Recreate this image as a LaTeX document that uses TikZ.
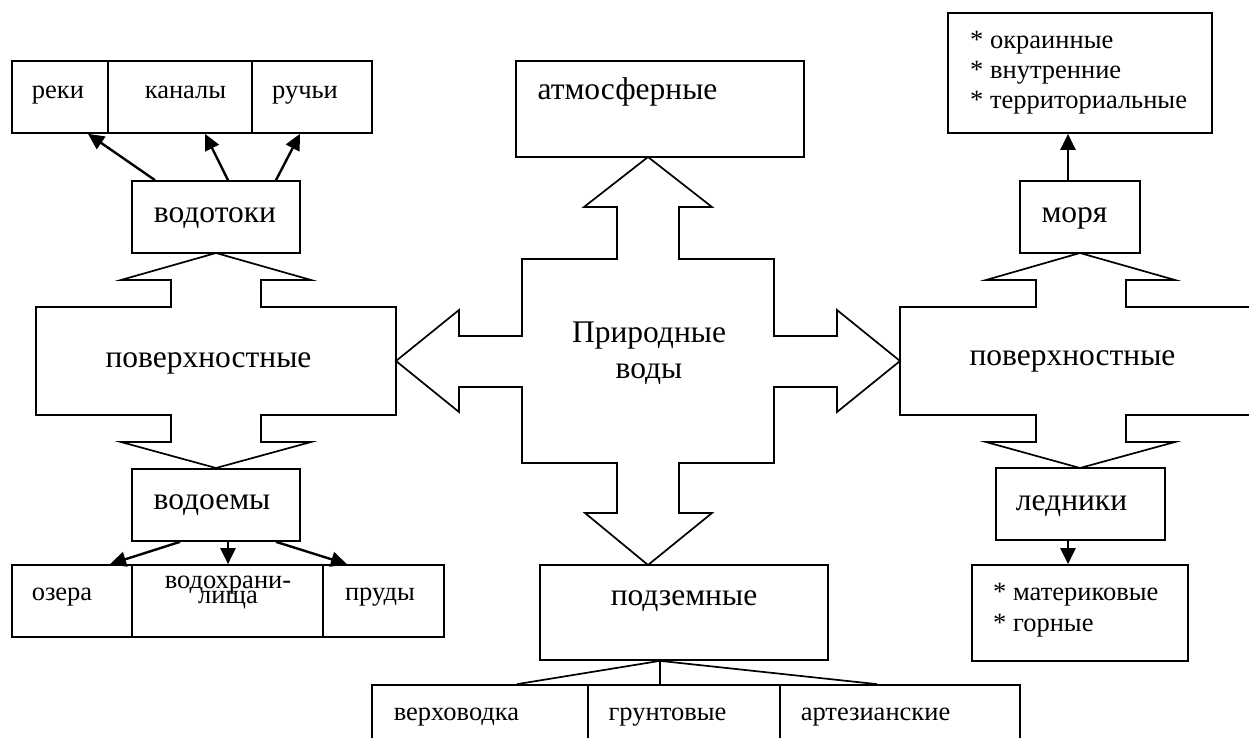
\documentclass[tikz,border=0pt]{standalone}
\usepackage{fontspec}
\setmainfont{Liberation Serif}
\usetikzlibrary{arrows.meta}
\begin{document}
\begin{tikzpicture}[x=1pt,y=-1pt,
  box/.style={draw, line width=1.7pt, rectangle, inner sep=0pt},
  bigtxt/.style={font=\fontsize{31.5}{36}\selectfont, inner sep=0pt, anchor=base},
  smalltxt/.style={font=\fontsize{26.5}{30}\selectfont, inner sep=0pt, anchor=base},
  listtxt/.style={font=\fontsize{26.5}{30}\selectfont, inner sep=0pt, anchor=base west},
  arr/.style={line width=2.4pt, -{Triangle[length=16pt,width=15pt]}},
  plain/.style={line width=1.7pt},
  blockarrow/.style={draw, line width=1.7pt, line join=miter, fill=white}]
\useasboundingbox (0,0) rectangle (1249,738);
\clip (0,0) rectangle (1249,738);

% ---------- block arrows ----------
% left group (surface waters)
\draw[blockarrow] (216,253) -- (311,280) -- (261,280) -- (261,307) -- (396,307) -- (396,415)
  -- (261,415) -- (261,442) -- (311,442) -- (216,468) -- (121,442) -- (171,442) -- (171,415)
  -- (36,415) -- (36,307) -- (171,307) -- (171,280) -- (121,280) -- cycle;
% right group (surface waters)
\draw[blockarrow] (1080,253) -- (1175,280) -- (1126,280) -- (1126,307) -- (1270,307) -- (1270,415)
  -- (1126,415) -- (1126,442) -- (1175,442) -- (1080,468) -- (986,442) -- (1036,442) -- (1036,415)
  -- (900,415) -- (900,307) -- (1036,307) -- (1036,280) -- (986,280) -- cycle;
% central cross arrow
\draw[blockarrow] (648,157) -- (712,207) -- (679,207) -- (679,259) -- (774,259) -- (774,336)
  -- (837,336) -- (837,310) -- (900,361) -- (837,412) -- (837,387) -- (774,387) -- (774,463)
  -- (679,463) -- (679,513) -- (712,513) -- (648,565) -- (585,513) -- (617,513) -- (617,463)
  -- (522,463) -- (522,387) -- (459,387) -- (459,412) -- (396,361) -- (459,310) -- (459,336)
  -- (522,336) -- (522,259) -- (617,259) -- (617,207) -- (584,207) -- cycle;

% ---------- boxes ----------
\node[box, minimum width=96pt,  minimum height=72pt] (reki)    at (60,97)  {};
\node[box, minimum width=144pt, minimum height=72pt] (kanaly)  at (180,97) {};
\node[box, minimum width=120pt, minimum height=72pt] (ruchi)   at (312,97) {};
\node[box, minimum width=168pt, minimum height=72pt] (vodotoki) at (216,217) {};
\node[box, minimum width=168pt, minimum height=72pt] (vodoemy)  at (216,505) {};
\node[box, minimum width=120pt, minimum height=72pt] (ozera)   at (72,601) {};
\node[box, minimum width=191pt, minimum height=72pt] (vodokhr) at (227.5,601) {};
\node[box, minimum width=121pt, minimum height=72pt] (prudy)   at (383.5,601) {};
\node[box, minimum width=288pt, minimum height=96pt] (atmo)    at (660,109) {};
\node[box, minimum width=288pt, minimum height=95pt] (podz)    at (684,612.5) {};
\node[box, minimum width=216pt, minimum height=75pt] (verkh)   at (480,722.5) {};
\node[box, minimum width=192pt, minimum height=75pt] (grunt)   at (684,722.5) {};
\node[box, minimum width=240pt, minimum height=75pt] (artez)   at (900,722.5) {};
\node[box, minimum width=264pt, minimum height=120pt] (seas)   at (1080,73) {};
\node[box, minimum width=120pt, minimum height=72pt] (morya)   at (1080,217) {};
\node[box, minimum width=169pt, minimum height=72pt] (ledniki) at (1080.5,504) {};
\node[box, minimum width=216pt, minimum height=96pt] (glac)    at (1080,613) {};

% ---------- texts ----------
\node[smalltxt] (t-reki)   at (58,99)    {реки};
\node[smalltxt] (t-kanaly) at (185.5,99) {каналы};
\node[smalltxt] (t-ruchi)  at (305,99)   {ручьи};
\node[bigtxt]   (t-vodotoki) at (215,222) {водотоки};
\node[bigtxt]   (t-povL)   at (208.5,367) {поверхностные};
\node[bigtxt]   (t-vodoemy) at (212,509) {водоемы};
\node[smalltxt] (t-ozera)  at (62,600)   {озера};
\node[smalltxt] (t-vdh1)   at (228,588)  {водохрани-};
\node[smalltxt] (t-vdh2)   at (228,603)  {лища};
\node[smalltxt] (t-prudy)  at (380,600)  {пруды};
\node[bigtxt]   (t-atmo)   at (627.5,100) {атмосферные};
\node[bigtxt]   (t-prir1)  at (649,342)  {Природные};
\node[bigtxt]   (t-prir2)  at (649,378)  {воды};
\node[bigtxt]   (t-podz)   at (684,605)  {подземные};
\node[smalltxt] (t-verkh)  at (456.5,720) {верховодка};
\node[smalltxt] (t-grunt)  at (667.5,720) {грунтовые};
\node[smalltxt] (t-artez)  at (875.5,720) {артезианские};
\node[listtxt]  (t-s1)     at (970,49)   {* окраинные};
\node[listtxt]  (t-s2)     at (970,79)   {* внутренние};
\node[listtxt]  (t-s3)     at (970,109)  {* территориальные};
\node[bigtxt]   (t-morya)  at (1074.5,222) {моря};
\node[bigtxt]   (t-povR)   at (1072.5,365) {поверхностные};
\node[bigtxt]   (t-ledniki) at (1071.5,510) {ледники};
\node[listtxt]  (t-g1)     at (993,600)  {* материковые};
\node[listtxt]  (t-g2)     at (993,631)  {* горные};

% ---------- connectors ----------
\draw[arr] ([xshift=-61pt]vodotoki.north) -- ([xshift=28pt]reki.south);
\draw[arr] ([xshift=12pt]vodotoki.north)  -- ([xshift=25pt]kanaly.south);
\draw[arr] ([xshift=60pt]vodotoki.north)  -- ([xshift=-12pt]ruchi.south);

\draw[arr] ([xshift=-36pt]vodoemy.south) -- ([xshift=38pt]ozera.north);
\draw[arr] ([xshift=12pt]vodoemy.south)  -- ([xshift=0.5pt]vodokhr.north);
\draw[arr] ([xshift=60pt]vodoemy.south)  -- ([xshift=-36.5pt]prudy.north);

\draw[arr] ([xshift=-12pt]morya.north) -- ([xshift=-12pt]seas.south);
\draw[arr] ([xshift=-12.5pt]ledniki.south) -- ([xshift=-12pt]glac.north);

\draw[plain] ([xshift=-24pt]podz.south) -- ([xshift=37pt]verkh.north);
\draw[plain] ([xshift=-24pt]podz.south) -- ([xshift=-24pt]grunt.north);
\draw[plain] ([xshift=-24pt]podz.south) -- ([xshift=-23pt]artez.north);
\end{tikzpicture}
\end{document}
